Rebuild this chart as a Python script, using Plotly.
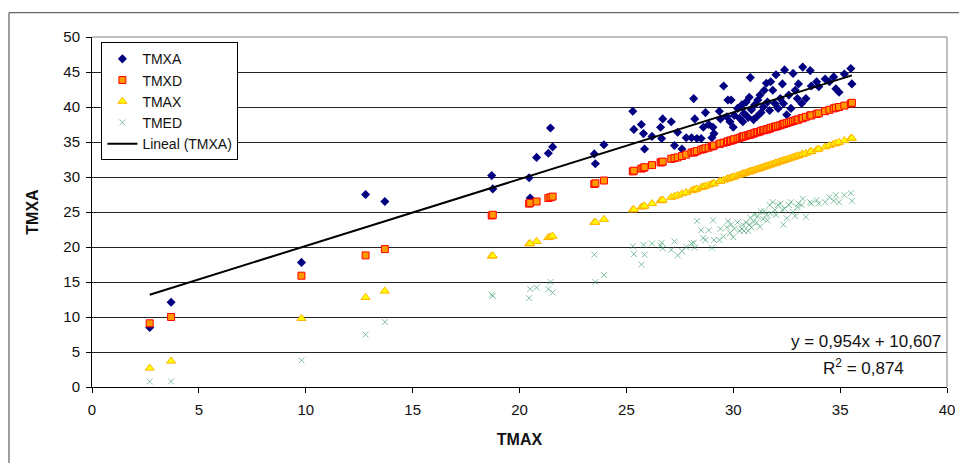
import plotly.graph_objects as go

# Common TMAX values (x axis)
tmax = [2.7, 3.7, 9.8, 12.8, 13.7, 18.7, 18.75, 20.45, 20.5, 20.8, 21.35, 21.45, 21.55,
        23.5, 23.55, 23.95,
        25.3, 25.35, 25.7, 25.8, 25.85, 26.2, 26.6, 26.65, 26.7, 27.1, 27.25, 27.4, 27.6,
        27.8, 28.05, 28.15, 28.2, 28.3, 28.5, 28.6, 28.7, 28.85, 29.0, 29.05, 29.1, 29.35,
        29.4, 29.55, 29.7, 29.75, 29.85, 29.9, 30.0, 30.05, 30.2, 30.3, 30.4, 30.45, 30.5,
        30.6, 30.7, 30.75, 30.8, 30.85, 30.95, 31.0, 31.1, 31.15, 31.25, 31.3, 31.4, 31.45,
        31.55, 31.6, 31.7, 31.75, 31.85, 31.95, 32.0, 32.1, 32.2, 32.3, 32.35, 32.4, 32.5,
        32.6, 32.7, 32.8, 32.9, 33.0, 33.05, 33.2, 33.25, 33.4, 33.6, 33.65, 33.9, 34.0,
        34.3, 34.5, 34.7, 34.8, 34.95, 35.2, 35.5, 35.55]

tmxa = [8.5, 12.1, 17.8, 27.5, 26.5, 30.2, 28.3, 29.9, 27.0, 32.8, 33.4, 37.0, 34.3,
        33.3, 31.9, 34.6,
        39.4, 36.8, 37.5, 36.2, 34.0, 35.8, 37.1, 35.5, 38.3, 37.9, 34.5, 36.4, 34.0,
        35.6, 35.6, 41.2, 38.3, 35.5, 35.5, 37.1, 39.2, 37.5, 35.6, 37.1, 36.2, 39.4,
        38.3, 43.0, 38.6, 41.0, 37.9, 41.0, 37.1, 38.8, 39.8, 38.4, 40.3, 37.9, 39.1,
        40.7, 38.5, 41.4, 44.2, 39.6, 38.2, 40.3, 38.6, 41.0, 41.7, 39.2, 40.0, 42.4,
        43.4, 40.7, 39.5, 43.6, 42.4, 40.5, 44.6, 39.8, 41.2, 43.3, 40.5, 45.3, 38.9,
        41.7, 39.8, 44.8, 42.4, 41.2, 43.3, 40.5, 45.7, 41.2, 45.2, 43.0, 43.6, 42.9,
        44.0, 43.6, 44.3, 42.6, 42.1, 44.7, 45.5, 43.3]

tmxd = [9.1, 10.0, 15.9, 18.8, 19.7, 24.5, 24.6, 26.2, 26.3, 26.5, 27.0, 27.1, 27.2,
        29.0, 29.1, 29.5,
        30.8, 30.9, 31.2, 31.3, 31.4, 31.7, 32.1, 32.1, 32.2, 32.6, 32.7, 32.8, 33.0,
        33.2, 33.5, 33.5, 33.6, 33.7, 33.9, 34.0, 34.1, 34.2, 34.4, 34.4, 34.5, 34.7,
        34.8, 34.9, 35.0, 35.1, 35.2, 35.2, 35.3, 35.4, 35.5, 35.6, 35.7, 35.8, 35.8,
        35.9, 36.0, 36.0, 36.1, 36.1, 36.2, 36.3, 36.4, 36.4, 36.5, 36.6, 36.7, 36.7,
        36.8, 36.8, 36.9, 37.0, 37.1, 37.2, 37.2, 37.3, 37.4, 37.5, 37.6, 37.6, 37.7,
        37.8, 37.9, 38.0, 38.1, 38.2, 38.2, 38.4, 38.4, 38.6, 38.8, 38.8, 39.0, 39.1,
        39.4, 39.6, 39.8, 39.9, 40.0, 40.2, 40.5, 40.6]

tmed = [0.8, 0.8, 3.8, 7.5, 9.3, 13.2, 13.0, 12.7, 14.0, 14.2, 14.0, 15.0, 13.5,
        18.9, 15.0, 16.0,
        20.1, 19.0, 17.5, 20.3, 18.9, 20.5, 20.2, 20.6, 19.8, 19.6, 20.8, 18.8, 19.4,
        20.0, 20.5, 20.6, 19.9, 23.7, 22.4, 21.3, 21.0, 22.4, 19.9, 23.8, 21.0, 21.0,
        22.6, 21.5, 22.8, 23.7, 22.0, 23.2, 21.4, 22.6, 23.5, 22.3, 22.6, 23.2, 22.3,
        23.5, 22.3, 23.2, 24.2, 22.8, 23.6, 24.6, 23.5, 24.4, 22.9, 25.1, 24.0, 25.1,
        24.6, 23.8, 26.0, 24.8, 26.4, 25.3, 24.6, 26.0, 26.2, 25.3, 23.2, 25.5, 24.1,
        26.0, 26.4, 25.0, 24.4, 25.7, 26.2, 26.0, 26.9, 24.3, 26.4, 26.2, 26.7, 26.2,
        26.4, 27.1, 26.6, 27.4, 26.4, 27.4, 27.7, 26.6]

# Linear trendline for TMXA (as reported on chart)
trend_slope = 0.954
trend_intercept = 10.607
trend_x = [min(tmax), max(tmax)]
trend_y = [trend_slope * v + trend_intercept for v in trend_x]

x_ticks = [0, 5, 10, 15, 20, 25, 30, 35, 40]
y_ticks = [0, 5, 10, 15, 20, 25, 30, 35, 40, 45, 50]

font_family = "Liberation Sans, Arial, sans-serif"

fig = go.Figure()
fig.add_trace(go.Scatter(x=tmax, y=tmxa, mode="markers", name="TMXA", legendgroup="a",
                         marker=dict(symbol="diamond", size=7, color="#000080",
                                     line=dict(width=0))))
fig.add_trace(go.Scatter(x=tmax, y=tmxd, mode="markers", name="TMXD", legendgroup="b",
                         marker=dict(symbol="square", size=7, color="#FF9900",
                                     line=dict(width=1, color="#FF0000"))))
fig.add_trace(go.Scatter(x=tmax, y=tmax, mode="markers", name="TMAX", legendgroup="c",
                         marker=dict(symbol="triangle-up", size=8, color="#FFFF00",
                                     line=dict(width=1, color="#FFB000"))))
fig.add_trace(go.Scatter(x=tmax, y=tmed, mode="markers", name="TMED", legendgroup="d",
                         marker=dict(symbol="x-thin", size=6, color="rgba(51,153,102,0.6)",
                                     line=dict(width=1, color="rgba(51,153,102,0.6)"))))
fig.add_trace(go.Scatter(x=trend_x, y=trend_y, mode="lines", name="Lineal (TMXA)",
                         legendgroup="e", line=dict(color="black", width=2)))

fig.update_layout(
    width=959, height=455,
    margin=dict(l=84, r=15, t=29, b=76),
    paper_bgcolor="white", plot_bgcolor="white",
    font=dict(family=font_family, size=15, color="#111111"),
    showlegend=True,
    legend=dict(x=0.011, y=0.985, xanchor="left", yanchor="top",
                bgcolor="white", bordercolor="black", borderwidth=1,
                font=dict(size=14, family=font_family), tracegroupgap=0,
                itemwidth=30),
    xaxis=dict(range=[0, 40], tickvals=x_ticks, ticktext=[str(v) for v in x_ticks],
               showgrid=False, zeroline=False, showline=True, linecolor="black",
               linewidth=1, ticks="outside", ticklen=5, tickcolor="black",
               ticklabelstandoff=4, tickfont=dict(size=15),
               title=dict(text="<b>TMAX</b>", font=dict(size=16), standoff=16),
               mirror=False),
    yaxis=dict(range=[0, 50], tickvals=y_ticks, ticktext=[str(v) for v in y_ticks],
               showgrid=True, gridcolor="#222222", gridwidth=1,
               zeroline=False, showline=True, linecolor="black",
               linewidth=1, ticks="outside", ticklen=5, tickcolor="black",
               ticklabelstandoff=3, tickfont=dict(size=15),
               title=dict(text="<b>TMXA</b>", font=dict(size=16), standoff=20)),
    shapes=[
        # plot-area border, top edge (gray)
        dict(type="line", xref="paper", yref="paper", x0=0, y0=1, x1=1, y1=1,
             line=dict(color="#808080", width=1), layer="above"),
        # plot-area border, right edge (gray)
        dict(type="line", xref="paper", yref="paper", x0=1, y0=0, x1=1, y1=1,
             line=dict(color="#808080", width=1), layer="above"),
        # outer chart border
        dict(type="rect", xref="paper", yref="paper", x0=-0.0971, y0=-0.3,
             x1=1.05, y1=1.0694, line=dict(color="#404040", width=1)),
    ],
    annotations=[
        dict(text="y = 0,954x + 10,607", xref="x", yref="y", x=39.8, y=6.5,
             xanchor="right", yanchor="middle", showarrow=False,
             font=dict(size=17, family=font_family)),
        dict(text="R<sup>2</sup> = 0,874", xref="x", yref="y", x=36.1, y=2.9,
             xanchor="center", yanchor="middle", showarrow=False,
             font=dict(size=17, family=font_family)),
    ],
)

fig.write_html("out.html")
